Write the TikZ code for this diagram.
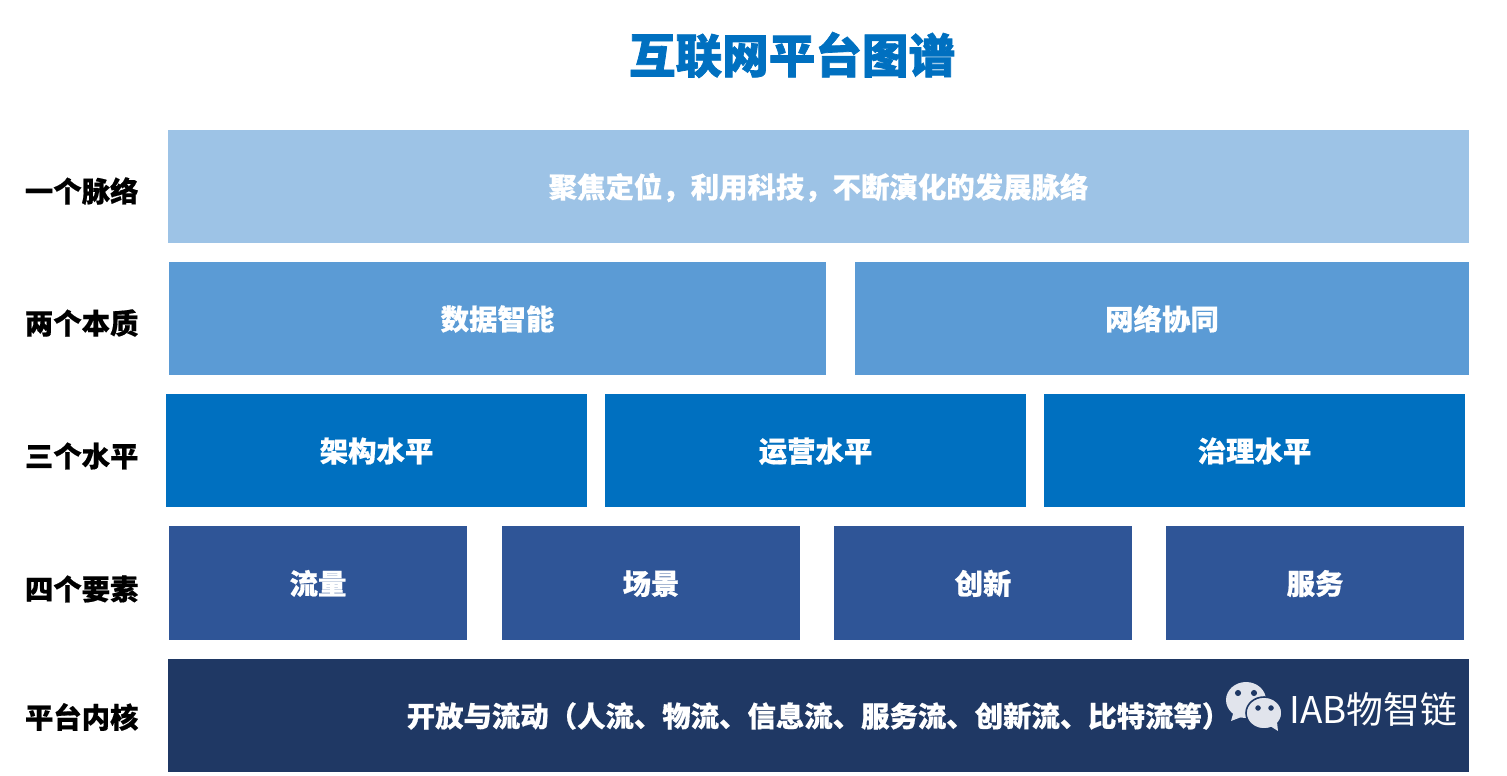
\documentclass[tikz,border=0pt]{standalone}
\usepackage{fontspec}
\setmainfont{Noto Sans CJK SC}
\newfontfamily\titlefont[BoldFeatures={FakeBold=1.6}]{Noto Sans CJK SC}
\newfontfamily\blockfont[BoldFeatures={FakeBold=0.5}]{Noto Sans CJK SC}
\definecolor{titleblue}{HTML}{0070C0}
\definecolor{maiblue}{HTML}{9DC3E6}
\definecolor{benblue}{HTML}{5B9BD5}
\definecolor{shuiblue}{HTML}{0070C0}
\definecolor{yaoblue}{HTML}{2F5597}
\definecolor{heblue}{HTML}{1F3864}
\definecolor{bubble}{HTML}{E1E4EC}
\tikzset{
  blockbox/.style={rectangle,inner sep=0pt,text=white,font=\blockfont\fontsize{14.2pt}{16pt}\selectfont\bfseries,minimum height=56.5pt,text height=13pt,text depth=1.7pt},
  rowlabel/.style={anchor=west,inner sep=0pt,text=black,font=\blockfont\fontsize{14.2pt}{16pt}\selectfont\bfseries}
}
\begin{document}
\begin{tikzpicture}[x=0.5pt,y=-0.5pt]
\useasboundingbox (0,0) rectangle (1507,775);

\node (title) at (792,55) [inner sep=0pt,text=titleblue,font=\titlefont\fontsize{23.3pt}{26pt}\selectfont\bfseries] {互联网平台图谱};

\node (L1) at (24.5,191) [rowlabel] {一个脉络};
\node (L2) at (24.5,323) [rowlabel] {两个本质};
\node (L3) at (24.5,456) [rowlabel] {三个水平};
\node (L4) at (24.5,589) [rowlabel] {四个要素};
\node (L5) at (24.5,717) [rowlabel] {平台内核};

\node (M1) at (818.5,186.5) [blockbox,fill=maiblue,minimum width=650.5pt] {聚焦定位，利用科技，不断演化的发展脉络};

\node (B1) at (497.5,318.5) [blockbox,fill=benblue,minimum width=328.5pt] {数据智能};
\node (B2) at (1162,318.5) [blockbox,fill=benblue,minimum width=307pt] {网络协同};

\node (S1) at (376.5,450.5) [blockbox,fill=shuiblue,minimum width=210.5pt] {架构水平};
\node (S2) at (815.5,450.5) [blockbox,fill=shuiblue,minimum width=210.5pt] {运营水平};
\node (S3) at (1254.5,450.5) [blockbox,fill=shuiblue,minimum width=210.5pt] {治理水平};

\node (Y1) at (318,583) [blockbox,fill=yaoblue,minimum width=149pt,minimum height=57pt] {流量};
\node (Y2) at (651,583) [blockbox,fill=yaoblue,minimum width=149pt,minimum height=57pt] {场景};
\node (Y3) at (983,583) [blockbox,fill=yaoblue,minimum width=149pt,minimum height=57pt] {创新};
\node (Y4) at (1315,583) [blockbox,fill=yaoblue,minimum width=149pt,minimum height=57pt] {服务};

\node (H1) at (818.5,715.5) [blockbox,fill=heblue,minimum width=650.5pt] {开放与流动（人流、物流、信息流、服务流、创新流、比特流等）};

% watermark
\filldraw[fill=bubble,draw=none] (1246,700) ellipse (20 and 18);
\filldraw[fill=bubble,draw=none] (1233,714) -- (1231,721) -- (1244,716) -- cycle;
\filldraw[fill=bubble,draw=heblue,thick] (1264,713) ellipse (18 and 16);
\filldraw[fill=bubble,draw=none] (1270,726) -- (1278,731) -- (1277,722) -- cycle;
\filldraw[heblue] (1238,693) circle (2.6);
\filldraw[heblue] (1254,693) circle (2.6);
\filldraw[heblue] (1258,708) circle (2.3);
\filldraw[heblue] (1271,708) circle (2.3);
\node (mark) at (1289,709) [anchor=west,inner sep=0pt,text=white,font=\fontsize{18.4pt}{20pt}\selectfont] {IAB物智链};
\end{tikzpicture}
\end{document}
